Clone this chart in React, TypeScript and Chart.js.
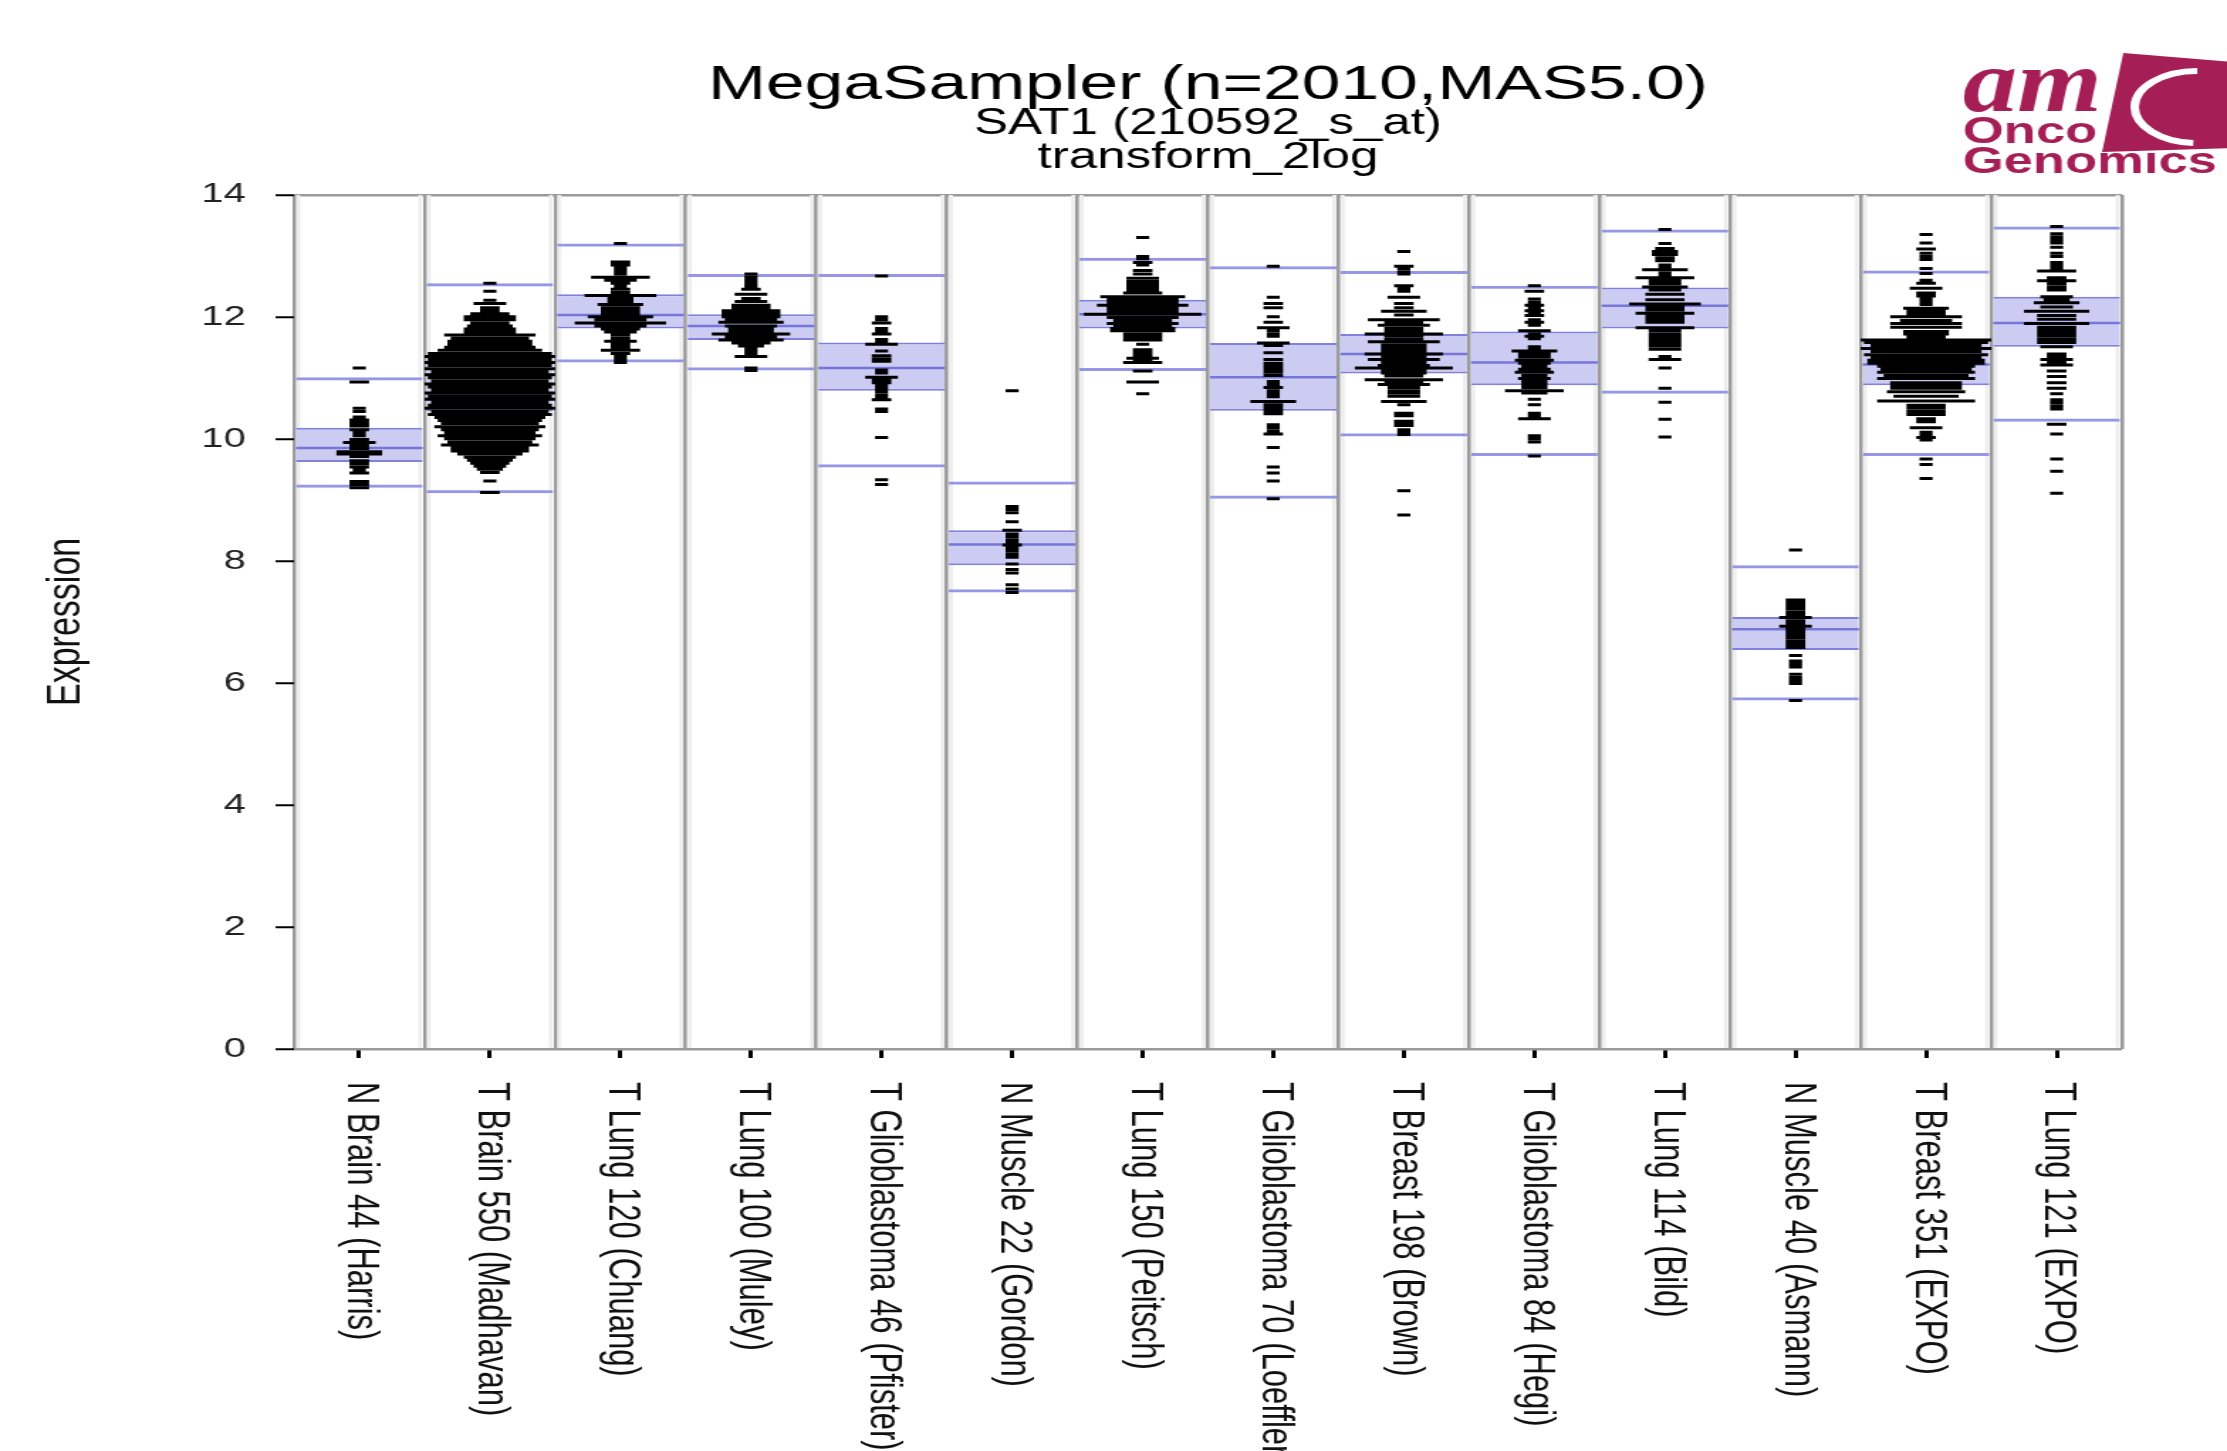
import { useEffect, useRef } from 'react';
import { Chart, registerables } from 'chart.js';

Chart.register(...registerables);

// ---------- text ----------
const TITLE = 'MegaSampler (n=2010,MAS5.0)';
const SUBTITLE = ['SAT1 (210592_s_at)', 'transform_2log'];
const Y_TITLE = 'Expression';

// ---------- categories ----------
const categories = [
  'N Brain 44 (Harris)',
  'T Brain 550 (Madhavan)',
  'T Lung 120 (Chuang)',
  'T Lung 100 (Muley)',
  'T Glioblastoma 46 (Pfister)',
  'N Muscle 22 (Gordon)',
  'T Lung 150 (Peitsch)',
  'T Glioblastoma 70 (Loeffler)',
  'T Breast 198 (Brown)',
  'T Glioblastoma 84 (Hegi)',
  'T Lung 114 (Bild)',
  'N Muscle 40 (Asmann)',
  'T Breast 351 (EXPO)',
  'T Lung 121 (EXPO)',
];

// ---------- y axis ----------
const Y_MIN = 0;
const Y_MAX = 14;
const Y_STEP = 2;

// ---------- per-group summary lines ----------
const outerHigh = [11.01, 12.55, 13.2, 12.7, 12.7, 9.3, 12.97, 12.83, 12.75, 12.51, 13.43, 7.93, 12.76, 13.48];
const outerLow = [9.2, 9.11, 11.25, 11.12, 9.53, 7.48, 11.11, 9.02, 10.04, 9.72, 10.74, 5.71, 9.72, 10.28];
const bandHigh = [10.18, 11.25, 12.37, 12.04, 11.58, 8.5, 12.28, 11.57, 11.72, 11.76, 12.48, 7.08, 11.62, 12.33];
const medians = [9.85, 10.74, 12.03, 11.85, 11.16, 8.27, 12.04, 11.01, 11.39, 11.25, 12.18, 6.88, 11.22, 11.9];
const bandLow = [9.62, 10.45, 11.81, 11.62, 10.79, 7.93, 11.81, 10.46, 11.07, 10.88, 11.81, 6.54, 10.88, 11.51];

// ---------- per-group sample histograms: [expression, relative count] ----------
const nBrain44 = [
  [11.16, 2], [10.93, 3], [10.5, 2], [10.45, 2], [10.36, 2], [10.31, 3], [10.26, 3], [10.21, 3], [10.15, 3],
  [10.1, 2], [10.05, 2], [9.99, 3], [9.94, 5], [9.89, 3], [9.84, 3], [9.79, 7], [9.75, 7], [9.71, 3],
  [9.64, 3], [9.59, 3], [9.54, 3], [9.49, 2], [9.44, 3], [9.3, 3], [9.25, 3], [9.2, 3],
];
const tBrain550 = [
  [12.55, 2], [12.42, 2], [12.27, 2], [12.22, 5], [12.15, 3], [12.1, 3], [12.05, 6], [12.0, 8], [11.95, 8],
  [11.9, 6], [11.85, 7], [11.8, 8], [11.75, 8], [11.7, 14], [11.65, 12], [11.6, 13], [11.55, 13], [11.5, 14],
  [11.45, 16], [11.4, 19], [11.35, 20], [11.3, 19], [11.25, 20], [11.2, 19], [11.15, 20], [11.1, 18],
  [11.05, 20], [11.0, 19], [10.95, 18], [10.9, 20], [10.85, 19], [10.8, 18], [10.75, 20], [10.7, 19],
  [10.65, 20], [10.6, 18], [10.55, 19], [10.5, 20], [10.45, 18], [10.4, 19], [10.35, 17], [10.3, 16],
  [10.25, 15], [10.2, 17], [10.15, 15], [10.1, 14], [10.05, 16], [10.0, 14], [9.95, 13], [9.9, 15],
  [9.85, 12], [9.8, 12], [9.75, 10], [9.7, 8], [9.65, 7], [9.6, 6], [9.55, 5], [9.5, 4], [9.45, 3],
  [9.31, 2], [9.12, 3],
];
const tLung120 = [
  [13.2, 2], [12.9, 3], [12.85, 3], [12.8, 2], [12.75, 2], [12.7, 2], [12.65, 9], [12.6, 5], [12.55, 3],
  [12.5, 2], [12.45, 3], [12.4, 3], [12.35, 11], [12.3, 4], [12.25, 4], [12.2, 7], [12.15, 6], [12.1, 6],
  [12.05, 6], [12.0, 10], [11.95, 8], [11.9, 14], [11.85, 8], [11.8, 6], [11.75, 5], [11.7, 3], [11.65, 3],
  [11.6, 5], [11.55, 3], [11.5, 3], [11.45, 6], [11.4, 3], [11.35, 2], [11.3, 2], [11.25, 2],
];
const tLung100 = [
  [12.7, 2], [12.65, 2], [12.6, 2], [12.55, 2], [12.5, 2], [12.45, 3], [12.37, 5], [12.3, 3], [12.25, 5],
  [12.19, 6], [12.15, 6], [12.1, 9], [12.05, 9], [12.0, 9], [11.95, 8], [11.91, 10], [11.85, 8], [11.8, 7],
  [11.76, 7], [11.72, 12], [11.67, 8], [11.62, 10], [11.57, 6], [11.52, 4], [11.48, 2], [11.44, 2],
  [11.4, 2], [11.35, 5], [11.16, 2], [11.12, 2],
];
const tGlio46 = [
  [12.67, 2], [12.0, 2], [11.95, 2], [11.9, 3], [11.81, 2], [11.76, 2], [11.72, 3], [11.63, 2], [11.59, 2],
  [11.55, 5], [11.44, 2], [11.36, 3], [11.31, 3], [11.27, 3], [11.13, 2], [11.08, 2], [11.01, 5], [10.96, 3],
  [10.92, 3], [10.87, 2], [10.82, 2], [10.77, 2], [10.72, 2], [10.67, 2], [10.64, 3], [10.49, 2], [10.45, 2],
  [10.02, 2], [9.33, 2], [9.25, 2],
];
const nMuscle22 = [
  [10.79, 2], [8.89, 2], [8.84, 2], [8.79, 2], [8.64, 2], [8.5, 3], [8.44, 2], [8.39, 2], [8.34, 2],
  [8.29, 2], [8.26, 3], [8.21, 2], [8.16, 2], [8.11, 2], [8.06, 2], [7.95, 2], [7.86, 2], [7.8, 2],
  [7.61, 2], [7.54, 2], [7.48, 2],
];
const tLung150 = [
  [13.3, 2], [12.99, 2], [12.95, 2], [12.89, 3], [12.85, 2], [12.76, 3], [12.7, 3], [12.63, 5], [12.58, 5],
  [12.53, 5], [12.48, 5], [12.44, 5], [12.39, 6], [12.33, 13], [12.28, 11], [12.23, 11], [12.19, 14],
  [12.14, 11], [12.09, 11], [12.04, 18], [11.99, 11], [11.94, 9], [11.89, 11], [11.85, 9], [11.81, 10],
  [11.77, 10], [11.72, 6], [11.67, 6], [11.62, 6], [11.55, 2], [11.46, 3], [11.41, 3], [11.37, 3],
  [11.32, 5], [11.27, 3], [11.25, 6], [11.11, 3], [10.93, 5], [10.74, 2],
];
const tGlio70 = [
  [12.83, 2], [12.32, 2], [12.22, 3], [12.15, 3], [12.0, 2], [11.91, 3], [11.82, 5], [11.77, 2], [11.72, 2],
  [11.68, 2], [11.57, 5], [11.53, 3], [11.41, 3], [11.3, 3], [11.24, 3], [11.19, 3], [11.14, 3], [11.09, 3],
  [11.04, 3], [10.94, 2], [10.89, 2], [10.84, 3], [10.79, 2], [10.74, 2], [10.69, 2], [10.61, 7], [10.56, 3],
  [10.51, 3], [10.46, 3], [10.41, 3], [10.23, 2], [10.18, 2], [10.13, 2], [10.08, 3], [9.86, 2], [9.54, 2],
  [9.44, 2], [9.31, 2], [9.02, 2],
];
const tBreast198 = [
  [13.07, 2], [12.83, 3], [12.79, 2], [12.74, 2], [12.7, 2], [12.51, 3], [12.47, 2], [12.42, 2], [12.32, 5],
  [12.22, 3], [12.15, 3], [12.09, 7], [12.03, 3], [11.95, 11], [11.91, 6], [11.86, 8], [11.81, 6], [11.76, 6],
  [11.72, 12], [11.68, 6], [11.63, 6], [11.59, 11], [11.54, 7], [11.49, 7], [11.44, 7], [11.39, 12],
  [11.34, 7], [11.3, 11], [11.25, 7], [11.2, 8], [11.16, 15], [11.12, 7], [11.08, 7], [11.03, 6],
  [10.97, 12], [10.93, 6], [10.89, 8], [10.84, 5], [10.79, 5], [10.75, 5], [10.7, 5], [10.61, 7],
  [10.56, 2], [10.42, 3], [10.38, 3], [10.29, 3], [10.25, 3], [10.22, 3], [10.15, 2], [10.1, 2], [10.07, 2],
  [9.15, 2], [8.75, 2],
];
const tGlio84 = [
  [12.51, 2], [12.42, 3], [12.29, 2], [12.24, 2], [12.19, 3], [12.14, 2], [12.1, 3], [12.05, 2], [12.02, 3],
  [11.95, 2], [11.91, 3], [11.86, 2], [11.77, 5], [11.72, 2], [11.68, 3], [11.64, 2], [11.51, 2], [11.46, 2],
  [11.44, 7], [11.39, 5], [11.34, 5], [11.29, 6], [11.24, 5], [11.19, 4], [11.14, 5], [11.09, 6], [11.04, 4],
  [10.99, 5], [10.94, 4], [10.89, 4], [10.84, 4], [10.79, 9], [10.75, 4], [10.65, 2], [10.56, 2], [10.42, 2],
  [10.38, 2], [10.33, 5], [10.05, 2], [10.0, 2], [9.95, 2], [9.72, 2],
];
const tLung114 = [
  [13.43, 2], [13.2, 2], [13.12, 3], [13.07, 4], [13.02, 4], [12.97, 3], [12.92, 3], [12.85, 2], [12.8, 2],
  [12.77, 7], [12.72, 2], [12.68, 2], [12.64, 9], [12.59, 5], [12.54, 5], [12.49, 7], [12.44, 5], [12.37, 6],
  [12.28, 6], [12.21, 11], [12.16, 6], [12.11, 6], [12.06, 9], [12.01, 6], [11.96, 6], [11.91, 6],
  [11.82, 9], [11.77, 5], [11.72, 5], [11.67, 5], [11.62, 5], [11.57, 5], [11.52, 5], [11.47, 5],
  [11.35, 2], [11.3, 5], [11.16, 2], [10.83, 2], [10.6, 2], [10.32, 2], [10.03, 2],
];
const nMuscle40 = [
  [8.18, 2], [7.36, 3], [7.31, 3], [7.26, 3], [7.21, 3], [7.16, 3], [7.12, 3], [7.07, 5], [7.02, 3],
  [6.97, 3], [6.93, 5], [6.88, 3], [6.83, 3], [6.78, 3], [6.73, 3], [6.68, 3], [6.63, 3], [6.58, 3],
  [6.45, 2], [6.36, 2], [6.31, 2], [6.26, 2], [6.14, 2], [6.09, 2], [6.04, 2], [5.99, 2], [5.71, 2],
];
const tBreast351 = [
  [13.35, 2], [13.21, 2], [13.11, 3], [13.04, 2], [12.99, 2], [12.94, 2], [12.79, 2], [12.71, 2], [12.6, 2],
  [12.55, 3], [12.47, 5], [12.39, 3], [12.34, 3], [12.3, 2], [12.25, 2], [12.2, 2], [12.14, 7], [12.09, 6],
  [12.04, 6], [12.0, 11], [11.94, 8], [11.89, 11], [11.83, 11], [11.76, 7], [11.72, 7], [11.67, 6],
  [11.62, 20], [11.58, 19], [11.53, 17], [11.48, 20], [11.43, 17], [11.38, 19], [11.33, 17], [11.29, 18],
  [11.24, 18], [11.19, 15], [11.14, 14], [11.09, 15], [11.04, 13], [10.99, 15], [10.92, 11], [10.87, 11],
  [10.83, 11], [10.77, 12], [10.7, 10], [10.62, 15], [10.55, 6], [10.5, 6], [10.45, 6], [10.4, 6],
  [10.33, 3], [10.28, 3], [10.18, 5], [10.11, 2], [10.06, 2], [10.02, 3], [9.98, 2], [9.67, 2], [9.58, 2],
  [9.35, 2],
];
const tLung121 = [
  [13.48, 2], [13.36, 2], [13.31, 2], [13.26, 2], [13.21, 2], [13.14, 2], [13.04, 2], [12.99, 2], [12.89, 2],
  [12.84, 2], [12.8, 2], [12.75, 6], [12.64, 3], [12.59, 6], [12.54, 3], [12.49, 3], [12.44, 3], [12.33, 5],
  [12.28, 4], [12.23, 7], [12.16, 5], [12.09, 10], [12.02, 6], [11.96, 6], [11.89, 10], [11.83, 6],
  [11.78, 6], [11.73, 6], [11.68, 6], [11.63, 6], [11.58, 6], [11.51, 5], [11.39, 3], [11.34, 3], [11.3, 5],
  [11.25, 3], [11.21, 5], [11.11, 3], [11.02, 3], [10.92, 3], [10.83, 3], [10.74, 2], [10.64, 2], [10.59, 2],
  [10.54, 2], [10.49, 2], [10.24, 3], [10.08, 2], [9.67, 2], [9.47, 2], [9.11, 2],
];

const distributions = [
  nBrain44, tBrain550, tLung120, tLung100, tGlio46, nMuscle22, tLung150,
  tGlio70, tBreast198, tGlio84, tLung114, nMuscle40, tBreast351, tLung121,
];

// ---------- styling / layout ----------
const CANVAS_W = 1568;
const CANVAS_H = 1451;
const PAGE_W = 2227;
const FONT = '"Liberation Sans", Arial, Helvetica, sans-serif';
const BAR_PCT = 0.97;
const HALF = BAR_PCT / 2;
const DASH_UNIT = 0.025; // half-width per count unit, in column units

const OUTER_COLOR = 'rgb(150,150,232)';
const BAND_FILL = 'rgb(204,204,242)';
const BAND_EDGE = 'rgb(128,128,222)';
const MEDIAN_COLOR = 'rgb(118,118,218)';
const SEPARATOR = '#9a9a9a';

const segments = (vals: number[]) =>
  vals.flatMap((v, i) => [
    { x: i - HALF, y: v },
    { x: i + HALF, y: v },
    { x: null, y: null },
  ]);

const dashPoints = distributions.flatMap((bins, i) =>
  bins.flatMap(([v, n]) => [
    { x: i - n * DASH_UNIT, y: v },
    { x: i + n * DASH_UNIT, y: v },
    { x: null, y: null },
  ])
);

const xLabelPlugin = {
  id: 'rotatedXLabels',
  afterDraw(chart: any) {
    const scale = chart.scales.x;
    const ctx = chart.ctx;
    const top = chart.chartArea.bottom + 33;
    ctx.save();
    ctx.font = `31px ${FONT}`;
    ctx.fillStyle = '#111';
    ctx.textAlign = 'left';
    ctx.textBaseline = 'middle';
    categories.forEach((label, i) => {
      const x = scale.getPixelForValue(i);
      ctx.save();
      ctx.translate(x + 1, top);
      ctx.rotate(Math.PI / 2);
      ctx.fillText(label, 0, 0);
      ctx.restore();
    });
    ctx.restore();
  },
};

const logoPlugin = {
  id: 'amcLogo',
  afterDraw(chart: any) {
    const ctx = chart.ctx;
    const red = '#a51f56';
    ctx.save();
    ctx.fillStyle = red;
    ctx.beginPath();
    ctx.moveTo(1495, 53);
    ctx.lineTo(1572, 62);
    ctx.lineTo(1572, 148);
    ctx.lineTo(1480, 152);
    ctx.closePath();
    ctx.fill();
    ctx.strokeStyle = '#ffffff';
    ctx.lineWidth = 6;
    ctx.beginPath();
    ctx.ellipse(1547, 107, 44, 36, 0, -Math.PI / 2, Math.PI * 0.52, true);
    ctx.stroke();
    ctx.textAlign = 'left';
    ctx.textBaseline = 'alphabetic';
    ctx.font = 'italic bold 88px "Liberation Serif", "DejaVu Serif", serif';
    ctx.save();
    ctx.translate(1382, 111);
    ctx.scale(0.87, 1);
    ctx.fillText('am', 0, 0);
    ctx.restore();
    ctx.font = `bold 37px ${FONT}`;
    ctx.fillText('Onco', 1382, 143);
    ctx.fillText('Genomics', 1382, 173);
    ctx.restore();
  },
};

export default function App() {
  const ref = useRef<HTMLCanvasElement>(null);

  useEffect(() => {
    if (!ref.current) return;
    const chart = new Chart(ref.current, {
      type: 'bar',
      data: {
        labels: categories,
        datasets: [
          {
            type: 'line',
            label: 'samples',
            xAxisID: 'xd',
            yAxisID: 'y',
            data: dashPoints as any,
            borderColor: '#000',
            borderWidth: 3,
            borderCapStyle: 'butt',
            pointRadius: 0,
            spanGaps: false,
            tension: 0,
            fill: false,
            order: 0,
          } as any,
          {
            type: 'line',
            label: 'median',
            xAxisID: 'xd',
            yAxisID: 'y',
            data: segments(medians) as any,
            borderColor: MEDIAN_COLOR,
            borderWidth: 2.5,
            pointRadius: 0,
            spanGaps: false,
            fill: false,
            order: 1,
          } as any,
          {
            type: 'bar',
            label: 'outer',
            data: outerLow.map((lo, i) => [lo, outerHigh[i]]),
            backgroundColor: 'rgba(0,0,0,0)',
            borderColor: OUTER_COLOR,
            borderWidth: { top: 3, bottom: 3, left: 0, right: 0 },
            borderSkipped: false,
            grouped: false,
            barPercentage: BAR_PCT,
            categoryPercentage: 1,
            order: 2,
          } as any,
          {
            type: 'bar',
            label: 'band',
            data: bandLow.map((lo, i) => [lo, bandHigh[i]]),
            backgroundColor: BAND_FILL,
            borderColor: BAND_EDGE,
            borderWidth: { top: 2, bottom: 2, left: 0, right: 0 },
            borderSkipped: false,
            grouped: false,
            barPercentage: BAR_PCT,
            categoryPercentage: 1,
            order: 3,
          } as any,
          {
            type: 'bar',
            label: 'frame',
            data: categories.map(() => [Y_MIN, Y_MAX]),
            backgroundColor: 'rgba(0,0,0,0)',
            borderColor: '#eeeeee',
            borderWidth: { top: 0, bottom: 0, left: 3, right: 3 },
            borderSkipped: false,
            grouped: false,
            barPercentage: BAR_PCT,
            categoryPercentage: 1,
            order: 4,
          } as any,
        ],
      },
      options: {
        responsive: false,
        maintainAspectRatio: false,
        animation: false,
        devicePixelRatio: 1,
        events: [],
        layout: { padding: { left: 0, right: 74, top: 0, bottom: 393 } },
        plugins: {
          legend: { display: false },
          tooltip: { enabled: false },
          title: {
            display: true,
            text: TITLE,
            fullSize: false,
            color: '#000',
            font: { family: FONT, size: 49, weight: 'normal', lineHeight: 0.9 },
            padding: { top: 63, bottom: 0 },
          },
          subtitle: {
            display: true,
            text: SUBTITLE,
            fullSize: false,
            color: '#000',
            font: { family: FONT, size: 36, weight: 'normal', lineHeight: 0.94 },
            padding: { top: 0, bottom: 20 },
          },
        },
        scales: {
          x: {
            type: 'category',
            position: 'bottom',
            offset: true,
            weight: 1,
            grid: {
              offset: true,
              color: SEPARATOR,
              lineWidth: 2.6,
              drawTicks: false,
              drawOnChartArea: true,
            },
            border: { display: false },
            ticks: { display: false },
          },
          x2: {
            type: 'category',
            labels: categories,
            position: 'bottom',
            offset: true,
            weight: 0,
            grid: {
              offset: false,
              drawOnChartArea: false,
              drawTicks: true,
              tickLength: 9,
              tickColor: '#000',
              tickWidth: 3,
              color: '#000',
            },
            border: { display: false },
            ticks: { display: false },
          },
          xd: {
            type: 'linear',
            display: false,
            min: -0.5,
            max: categories.length - 0.5,
            offset: false,
            grid: { offset: false },
          },
          y: {
            type: 'linear',
            position: 'left',
            min: Y_MIN,
            max: Y_MAX,
            afterFit: (scale: any) => {
              scale.width = 207;
            },
            ticks: {
              stepSize: Y_STEP,
              padding: 21,
              color: '#222',
              font: { family: FONT, size: 28 },
            },
            grid: {
              drawTicks: true,
              tickLength: 13,
              tickColor: '#000',
              tickWidth: 2,
              lineWidth: 2.5,
              color: (ctx: any) =>
                ctx.tick && (ctx.tick.value === Y_MAX || ctx.tick.value === Y_MIN)
                  ? SEPARATOR
                  : 'rgba(0,0,0,0)',
            },
            border: { display: false },
            title: {
              display: true,
              text: Y_TITLE,
              color: '#111',
              font: { family: FONT, size: 34 },
              padding: { top: 26, bottom: 0 },
            },
          },
        },
      } as any,
      plugins: [xLabelPlugin, logoPlugin],
    });
    return () => chart.destroy();
  }, []);

  return (
    <canvas
      ref={ref}
      width={CANVAS_W}
      height={CANVAS_H}
      style={{
        position: 'fixed',
        left: 0,
        top: 0,
        width: `${PAGE_W}px`,
        height: `${CANVAS_H}px`,
        display: 'block',
      }}
    />
  );
}
